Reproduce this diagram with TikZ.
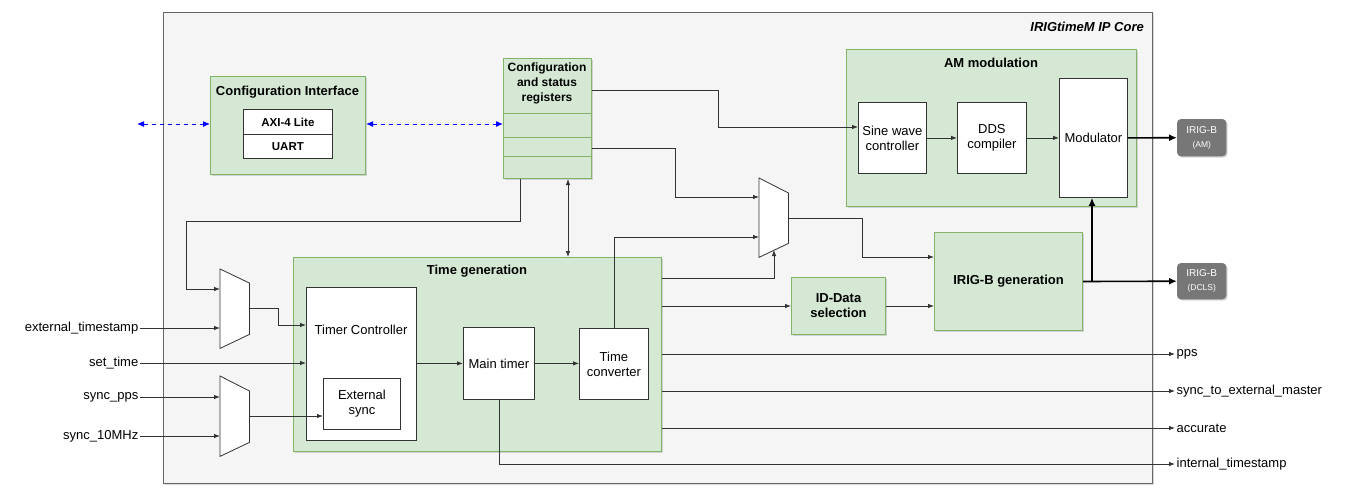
\documentclass[tikz,border=0pt]{standalone}
\usepackage{fontspec}
\setmainfont{Liberation Sans}
\usetikzlibrary{arrows.meta,shadows,calc}
\definecolor{gfill}{HTML}{D5E8D4}
\definecolor{gline}{HTML}{82B366}
\definecolor{corefill}{HTML}{F5F5F5}
\definecolor{coreline}{HTML}{666666}
\definecolor{lnk}{HTML}{333333}
\definecolor{badge}{HTML}{777777}
\definecolor{dotblue}{HTML}{0000FF}
\begin{document}
\begin{tikzpicture}[x=1pt,y=-1pt,
  font=\fontsize{13}{15}\selectfont,
  shd/.style={drop shadow={shadow xshift=1.5pt,shadow yshift=-1.5pt,opacity=0.25,fill=black!60}},
  corebox/.style={draw=coreline,fill=corefill,line width=0.8pt,inner sep=0pt,anchor=north west,shd},
  gbox/.style={draw=gline,fill=gfill,line width=1pt,inner sep=0pt,anchor=north west,shd},
  wbox/.style={draw=lnk,fill=white,line width=0.8pt,inner sep=0pt,anchor=north west,align=center},
  muxbox/.style={inner sep=0pt,anchor=north west},
  muxdraw/.style={draw=lnk,fill=white,line width=0.8pt},
  badgebox/.style={draw=badge,fill=badge,rounded corners=4pt,text=white,inner sep=0pt,anchor=north west,align=center,shd},
  ttl/.style={font=\fontsize{13}{15}\selectfont\bfseries,inner sep=0pt},
  plain/.style={inner sep=0pt,align=center},
  lbl/.style={inner sep=1.5pt},
  conn/.style={draw=lnk,line width=0.8pt,-{Latex[length=6pt,width=4.5pt]}},
  bconn/.style={draw=lnk,line width=0.8pt,{Latex[length=6pt,width=4.5pt]}-{Latex[length=6pt,width=4.5pt]}},
  line/.style={draw=lnk,line width=0.8pt},
  thickconn/.style={draw=black,line width=1.6pt,-{Latex[length=8pt,width=7pt]}},
  dotconn/.style={draw=dotblue,line width=1pt,dash pattern=on 4pt off 4pt,{Latex[length=7pt,width=6pt]}-{Latex[length=7pt,width=6pt]}}
]
\useasboundingbox (0,0) rectangle (1350,496);

% outer core
\node[corebox,minimum width=989,minimum height=471] (core) at (163,12) {};
\node[inner sep=0pt,anchor=east,font=\fontsize{13}{15}\selectfont\bfseries\itshape] (coreT) at (1144,27) {IRIGtimeM IP Core};

% configuration interface
\node[gbox,minimum width=155,minimum height=98] (cfgif) at (210,76) {};
\node[ttl] (cfgifT) at (287.5,92) {Configuration Interface};
\node[wbox,minimum width=89,minimum height=25,font=\fontsize{11.5}{13}\selectfont\bfseries] (axi) at (243,109) {AXI-4 Lite};
\node[wbox,minimum width=89,minimum height=24,font=\fontsize{11.5}{13}\selectfont\bfseries] (uart) at (243,134) {UART};
\coordinate (extcfg) at (137,124);

% configuration and status registers
\node[gbox,minimum width=88,minimum height=120] (reg) at (503,58) {};
\draw[gline,line width=1pt] (reg.west |- 0,113) -- (reg.east |- 0,113)
  (reg.west |- 0,137) -- (reg.east |- 0,137)
  (reg.west |- 0,156) -- (reg.east |- 0,156);
\node[ttl,font=\fontsize{12}{15}\selectfont\bfseries,align=center] (regT) at (547,83) {Configuration\\and status\\registers};

% AM modulation
\node[gbox,minimum width=290,minimum height=157] (am) at (846,49) {};
\node[ttl] (amT) at (991,63) {AM modulation};
\node[wbox,minimum width=68,minimum height=71] (sine) at (858,102) {Sine wave\\controller};
\node[wbox,minimum width=69,minimum height=71] (dds) at (957,102) {DDS\\compiler};
\node[wbox,minimum width=68,minimum height=119] (mod) at (1059,78) {Modulator};

% badges
\node[badgebox,minimum width=49,minimum height=37] (amout) at (1177,119) {\fontsize{10}{11}\selectfont IRIG-B\\[-1pt]\fontsize{8.5}{10}\selectfont (AM)};
\node[badgebox,minimum width=49,minimum height=36] (dcls) at (1177,263) {\fontsize{10}{11}\selectfont IRIG-B\\[-1pt]\fontsize{8.5}{10}\selectfont (DCLS)};

% IRIG-B generation and ID-data
\node[gbox,minimum width=148,minimum height=98,font=\fontsize{13}{15}\selectfont\bfseries] (irig) at (934,232) {IRIG-B generation};
\node[gbox,minimum width=94,minimum height=57,align=center,font=\fontsize{13}{15}\selectfont\bfseries] (idd) at (791,277) {ID-Data\\selection};

% time generation
\node[gbox,minimum width=368,minimum height=194] (tgen) at (293,257) {};
\node[ttl] (tgenT) at (477,271) {Time generation};
\node[wbox,minimum width=110,minimum height=153] (tctrl) at (306,287) {};
\node[plain] (tctrlT) at (361,330) {Timer Controller};
\node[wbox,minimum width=77,minimum height=51] (esync) at (323,378) {External\\sync};
\node[wbox,minimum width=71,minimum height=72] (mt) at (463,327) {Main timer};
\node[wbox,minimum width=69,minimum height=71] (tc) at (579,328) {Time\\converter};

% multiplexers
\node[muxbox,minimum width=29,minimum height=79] (m1) at (759,178) {};
\draw[muxdraw] (m1.north west) -- ($(m1.north east)+(0,15)$) -- ($(m1.south east)+(0,-14)$) -- (m1.south west) -- cycle;
\node[muxbox,minimum width=29,minimum height=79] (m2) at (220,269) {};
\draw[muxdraw] (m2.north west) -- ($(m2.north east)+(0,14)$) -- ($(m2.south east)+(0,-14)$) -- (m2.south west) -- cycle;
\node[muxbox,minimum width=29,minimum height=80] (m3) at (220,376) {};
\draw[muxdraw] (m3.north west) -- ($(m3.north east)+(0,15)$) -- ($(m3.south east)+(0,-14)$) -- (m3.south west) -- cycle;

% left labels
\node[lbl,anchor=east] (extts) at (140,328) {external\_timestamp};
\node[lbl,anchor=east] (settime) at (140,363) {set\_time};
\node[lbl,anchor=east] (spps) at (140,397) {sync\_pps};
\node[lbl,anchor=east] (s10) at (140,436) {sync\_10MHz};

% right labels
\node[lbl,anchor=west] (pps) at (1175,354) {pps};
\node[lbl,anchor=west] (stem) at (1175,391) {sync\_to\_external\_master};
\node[lbl,anchor=west] (acc) at (1175,428) {accurate};
\node[lbl,anchor=west] (intts) at (1175,464) {internal\_timestamp};

% dotted bus arrows
\draw[dotconn] (extcfg) -- (cfgif.west |- extcfg);
\draw[dotconn] (cfgif.east |- extcfg) -- (reg.west |- extcfg);

% register connections
\draw[conn] (reg.east |- 0,90) -| (718,127) -- (sine.west |- 0,127);
\draw[conn] (reg.east |- 0,148) -| (675,197) -- (m1.west |- 0,197);
\draw[conn] (reg.south -| 520,0) |- (186,221) |- (m2.west |- 0,289);
\draw[bconn] (reg.south -| 568,0) -- (tgen.north -| 568,0);

% mux1
\draw[conn] (tc.north) |- (m1.west |- 0,237);
\draw[conn] (tgen.east |- 0,278) -| (774,250);
\draw[conn] (m1.east |- 0,218) -| (862,257) -- (irig.west |- 0,257);

% ID data / IRIG-B
\draw[conn] (tgen.east |- idd.west) -- (idd.west);
\draw[conn] (idd.east) -- (irig.west |- idd.east);
\draw[thickconn] (irig.east) -- (dcls.west);
\coordinate (br) at (1092,281);
\draw[thickconn] (br) -- (br |- mod.south);

% AM chain
\draw[conn] (sine.east) -- (dds.west);
\draw[conn] (dds.east) -- (mod.west |- dds.east);
\draw[thickconn] (mod.east) -- (amout.west);

% left inputs
\draw[conn] (extts.east) -- (m2.west |- extts.east);
\draw[conn] (m2.east |- 0,308) -| (278,325) -- (tctrl.west |- 0,325);
\draw[conn] (settime.east) -- (tctrl.west |- settime.east);
\draw[conn] (spps.east) -- (m3.west |- spps.east);
\draw[conn] (s10.east) -- (m3.west |- s10.east);
\draw[conn] (m3.east |- 0,416) -- (esync.west |- 0,416);

% time chain
\draw[conn] (tctrl.east |- mt.west) -- (mt.west);
\draw[conn] (mt.east) -- (tc.west |- mt.east);

% outputs
\draw[conn] (tgen.east |- pps.west) -- (pps.west);
\draw[conn] (tgen.east |- stem.west) -- (stem.west);
\draw[conn] (tgen.east |- acc.west) -- (acc.west);
\draw[conn] (mt.south) |- (intts.west);
\end{tikzpicture}
\end{document}
